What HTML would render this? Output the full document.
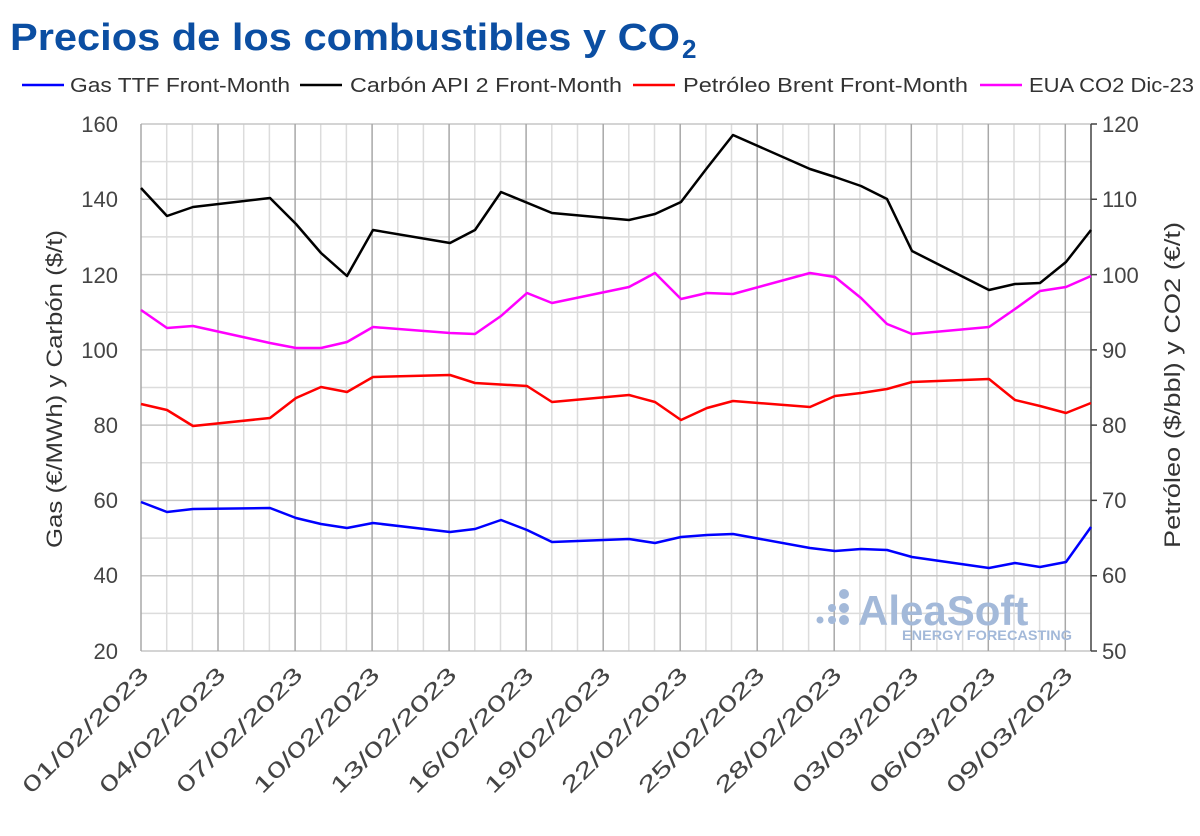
<!DOCTYPE html>
<html><head><meta charset="utf-8"><style>
body{margin:0;background:#fff;}
svg{font-family:"Liberation Sans","DejaVu Sans",sans-serif;}
</style></head><body>
<svg width="1200" height="831" xmlns="http://www.w3.org/2000/svg">
<text x="10" y="50" font-size="38" font-weight="bold" fill="#0b4ea2" textLength="670" lengthAdjust="spacingAndGlyphs">Precios de los combustibles y CO</text>
<text x="682" y="58" font-size="26" font-weight="bold" fill="#0b4ea2">2</text>
<g font-size="20" fill="#333">
<line x1="22" y1="85" x2="64" y2="85" stroke="#0000ff" stroke-width="2.5"/><text x="70" y="92" textLength="220" lengthAdjust="spacingAndGlyphs">Gas TTF Front-Month</text>
<line x1="300" y1="85" x2="342" y2="85" stroke="#000" stroke-width="2.5"/><text x="350" y="92" textLength="272" lengthAdjust="spacingAndGlyphs">Carbón API 2 Front-Month</text>
<line x1="633" y1="85" x2="675" y2="85" stroke="#ff0000" stroke-width="2.5"/><text x="683" y="92" textLength="285" lengthAdjust="spacingAndGlyphs">Petróleo Brent Front-Month</text>
<line x1="980" y1="85" x2="1022" y2="85" stroke="#ff00ff" stroke-width="2.5"/><text x="1029" y="92" textLength="165" lengthAdjust="spacingAndGlyphs">EUA CO2 Dic-23</text>
</g>
<path fill="none" stroke="#dcdcdc" stroke-width="1.5" d="M141 161.6H1091M141 236.9H1091M141 312.2H1091M141 387.5H1091M141 462.8H1091M141 538.1H1091M141 613.4H1091
M166.7 124V651M192.4 124V651M243.7 124V651M269.4 124V651M320.7 124V651M346.4 124V651M397.8 124V651M423.4 124V651M474.8 124V651M500.5 124V651M551.8 124V651M577.5 124V651M628.8 124V651M654.5 124V651M705.9 124V651M731.5 124V651M782.9 124V651M808.6 124V651M859.9 124V651M885.6 124V651M936.9 124V651M962.6 124V651M1014 124V651M1039.6 124V651"/>
<path fill="none" stroke="#c6c6c6" stroke-width="1.5" d="M141 124H1091M141 199.3H1091M141 274.6H1091M141 349.9H1091M141 425.1H1091M141 500.4H1091M141 575.7H1091M141 651H1091"/>
<path fill="none" stroke="#a8a8a8" stroke-width="1.5" d="M141 124V651M218 124V651M295.1 124V651M372.1 124V651M449.1 124V651M526.1 124V651M603.2 124V651M680.2 124V651M757.2 124V651M834.2 124V651M911.3 124V651M988.3 124V651M1065.3 124V651"/>
<path fill="none" stroke="#444" stroke-width="1.5" d="M1091 124V651M1091 124h6M1091 199.3h6M1091 274.6h6M1091 349.9h6M1091 425.1h6M1091 500.4h6M1091 575.7h6M1091 651h6"/>
<g font-size="22" fill="#444" text-anchor="end">
<text x="118" y="132">160</text><text x="118" y="207">140</text><text x="118" y="283">120</text><text x="118" y="358">100</text><text x="118" y="433">80</text><text x="118" y="508">60</text><text x="118" y="583">40</text><text x="118" y="659">20</text>
</g>
<g font-size="22" fill="#444">
<text x="1102" y="132">120</text><text x="1102" y="207">110</text><text x="1102" y="283">100</text><text x="1102" y="358">90</text><text x="1102" y="433">80</text><text x="1102" y="508">70</text><text x="1102" y="583">60</text><text x="1102" y="659">50</text>
</g>
<g font-size="22" fill="#444" text-anchor="end">
<text transform="translate(150,676) rotate(-45)" textLength="168" lengthAdjust="spacingAndGlyphs">01/02/2023</text>
<text transform="translate(227,676) rotate(-45)" textLength="168" lengthAdjust="spacingAndGlyphs">04/02/2023</text>
<text transform="translate(304,676) rotate(-45)" textLength="168" lengthAdjust="spacingAndGlyphs">07/02/2023</text>
<text transform="translate(381,676) rotate(-45)" textLength="168" lengthAdjust="spacingAndGlyphs">10/02/2023</text>
<text transform="translate(458,676) rotate(-45)" textLength="168" lengthAdjust="spacingAndGlyphs">13/02/2023</text>
<text transform="translate(535,676) rotate(-45)" textLength="168" lengthAdjust="spacingAndGlyphs">16/02/2023</text>
<text transform="translate(612,676) rotate(-45)" textLength="168" lengthAdjust="spacingAndGlyphs">19/02/2023</text>
<text transform="translate(689,676) rotate(-45)" textLength="168" lengthAdjust="spacingAndGlyphs">22/02/2023</text>
<text transform="translate(766,676) rotate(-45)" textLength="168" lengthAdjust="spacingAndGlyphs">25/02/2023</text>
<text transform="translate(843,676) rotate(-45)" textLength="168" lengthAdjust="spacingAndGlyphs">28/02/2023</text>
<text transform="translate(920,676) rotate(-45)" textLength="168" lengthAdjust="spacingAndGlyphs">03/03/2023</text>
<text transform="translate(997,676) rotate(-45)" textLength="168" lengthAdjust="spacingAndGlyphs">06/03/2023</text>
<text transform="translate(1074,676) rotate(-45)" textLength="168" lengthAdjust="spacingAndGlyphs">09/03/2023</text>
</g>
<text transform="translate(62,389) rotate(-90)" font-size="22" fill="#333" text-anchor="middle" textLength="318" lengthAdjust="spacingAndGlyphs">Gas (€/MWh) y Carbón ($/t)</text>
<text transform="translate(1180,385) rotate(-90)" font-size="22" fill="#333" text-anchor="middle" textLength="326" lengthAdjust="spacingAndGlyphs">Petróleo ($/bbl) y CO2 (€/t)</text>
<g fill="#a3b9d9">
<circle cx="844" cy="594" r="5"/><circle cx="844" cy="608" r="5"/><circle cx="844" cy="620" r="5"/><circle cx="832" cy="608" r="4"/><circle cx="832" cy="620" r="4"/><circle cx="820" cy="620" r="3.5"/>
<text x="858" y="625" font-size="42" font-weight="bold">AleaSoft</text>
<text x="902" y="640" font-size="14" font-weight="bold" textLength="170" lengthAdjust="spacingAndGlyphs">ENERGY FORECASTING</text>
</g>
<g fill="none" stroke-width="2.5" stroke-linejoin="round">
<polyline stroke="#000" points="141,188 167,216 193,207 270,198 296,224 321,253 347,276 373,230 450,243 475,230 501,192 552,213 629,220 655,214 681,202 707,168 733,135 810,169 835,177 861,186 887,199 912,251 989,290 1015,284 1040,283 1066,262 1091,230"/>
<polyline stroke="#ff00ff" points="141,310 167,328 193,326 270,343 296,348 321,348 347,342 373,327 450,333 475,334 501,316 527,293 552,303 629,287 655,273 681,299 707,293 733,294 810,273 835,277 861,298 887,324 912,334 989,327 1015,309 1040,291 1066,287 1091,276"/>
<polyline stroke="#ff0000" points="141,404 167,410 193,426 270,418 296,398 321,387 347,392 373,377 450,375 475,383 527,386 552,402 629,395 655,402 681,420 707,408 733,401 810,407 835,396 861,393 887,389 912,382 989,379 1015,400 1040,406 1066,413 1091,403"/>
<polyline stroke="#0000ff" points="141,502 167,512 193,509 270,508 296,518 321,524 347,528 373,523 450,532 475,529 501,520 527,530 552,542 629,539 655,543 681,537 707,535 733,534 810,548 835,551 861,549 887,550 912,557 989,568 1015,563 1040,567 1066,562 1091,527"/>
</g>
</svg>
</body></html>
